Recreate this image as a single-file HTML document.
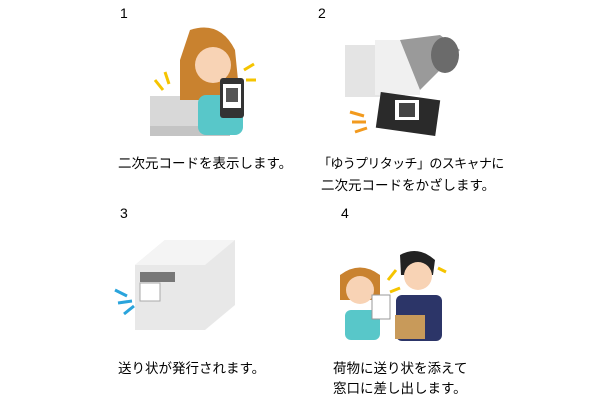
<!DOCTYPE html>
<html><head><meta charset="utf-8"><style>
body{margin:0;width:600px;height:400px;background:#fff;overflow:hidden;position:relative;font-family:"Liberation Sans","Noto Sans CJK JP",sans-serif;color:#000}
.t{position:absolute;font-size:14px;line-height:21px;white-space:nowrap}
</style></head><body>
<svg width="600" height="400" style="position:absolute;left:0;top:0">
<!-- panel 1 -->
<rect x="150" y="96" width="70" height="38" fill="#d8d8d8"/>
<rect x="150" y="126" width="80" height="10" fill="#c4c4c4"/>
<path d="M190 30 q30 -10 45 20 l5 50 h-60 l0 -40z" fill="#c9822f"/>
<circle cx="213" cy="65" r="18" fill="#f8d3b5"/>
<rect x="198" y="95" width="45" height="40" rx="8" fill="#58c7c9"/>
<rect x="220" y="78" width="24" height="40" rx="3" fill="#333"/>
<rect x="223" y="84" width="18" height="24" fill="#fff"/>
<rect x="226" y="88" width="12" height="14" fill="#555"/>
<path d="M155 80 l8 10 M165 72 l4 12 M244 70 l10 -6 M246 80 l10 0" stroke="#f5c400" stroke-width="3"/>
<!-- panel 2 -->
<rect x="345" y="45" width="60" height="52" fill="#e4e4e4"/>
<rect x="375" y="40" width="45" height="55" fill="#f0f0f0"/>
<path d="M400 40 l40 -5 l20 15 l-40 40z" fill="#9a9a9a"/>
<ellipse cx="445" cy="55" rx="14" ry="18" fill="#6b6b6b"/>
<rect x="378" y="96" width="60" height="36" fill="#2a2a2a" transform="rotate(8 408 114)"/>
<rect x="395" y="100" width="24" height="20" fill="#fff"/>
<rect x="399" y="103" width="16" height="14" fill="#444"/>
<path d="M350 112 l14 4 M352 122 l14 0 M355 132 l12 -4" stroke="#f29a1e" stroke-width="3"/>
<!-- panel 3 -->
<path d="M135 265 l30 -25 h70 v65 l-30 25 h-70z" fill="#e8e8e8"/>
<path d="M135 265 l30 -25 h70 l-30 25z" fill="#f4f4f4"/>
<rect x="140" y="272" width="35" height="10" fill="#777"/>
<rect x="140" y="283" width="20" height="18" fill="#fff" stroke="#aaa"/>
<path d="M115 290 l12 6 M118 303 l14 -2 M124 314 l10 -8" stroke="#2aa4dc" stroke-width="3"/>
<!-- panel 4 -->
<path d="M340 275 q20 -15 40 0 l0 25 h-40z" fill="#c9822f"/>
<circle cx="360" cy="290" r="14" fill="#f8d3b5"/>
<rect x="345" y="310" width="35" height="30" rx="6" fill="#58c7c9"/>
<rect x="372" y="295" width="18" height="24" fill="#fff" stroke="#999"/>
<path d="M400 255 q18 -10 35 5 l-2 15 h-32z" fill="#222"/>
<circle cx="418" cy="276" r="14" fill="#f8d3b5"/>
<rect x="396" y="295" width="46" height="46" rx="6" fill="#2c3568"/>
<rect x="395" y="315" width="30" height="24" fill="#c89a5a"/>
<path d="M388 280 l8 -10 M390 292 l10 -4 M438 268 l8 4" stroke="#f5c400" stroke-width="3"/>
</svg>
<div class="t" style="left:120px;top:3px">1</div>
<div class="t" style="left:318px;top:3px">2</div>
<div class="t" style="left:120px;top:203px">3</div>
<div class="t" style="left:341px;top:203px">4</div>
<div class="t" style="left:118px;top:153px;font-size:13.5px">二次元コードを表示します。</div>
<div class="t" style="left:318px;top:153px;font-size:13px;letter-spacing:-0.6px">「ゆうプリタッチ」のスキャナに</div>
<div class="t" style="left:321px;top:175px;font-size:13.5px">二次元コードをかざします。</div>
<div class="t" style="left:118px;top:358px;font-size:13.5px">送り状が発行されます。</div>
<div class="t" style="left:333px;top:358px;font-size:13.5px">荷物に送り状を添えて</div>
<div class="t" style="left:333px;top:378px;font-size:13.5px">窓口に差し出します。</div>
</body></html>
